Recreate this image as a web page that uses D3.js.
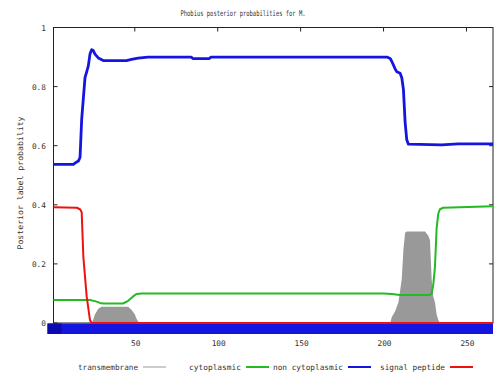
<!DOCTYPE html>
<html>
<head>
<meta charset="utf-8">
<script src="https://cdn.jsdelivr.net/npm/d3@7"></script>
<style>
  body { margin: 0; background: #fff; }
  text { font-family: "DejaVu Sans Mono", monospace; font-size: 7.8px; fill: #333; }
</style>
</head>
<body>
<script>
// residue range and tick labels
var residues = [1, 266];
var xTicks = [50, 100, 150, 200, 250];
var yTicks = [0, 0.2, 0.4, 0.6, 0.8, 1];

// posterior probabilities: [residue, probability]
var transmembrane = [[1,0],[24,0],[25,0.012],[26,0.03],[28,0.048],[30,0.055],[46,0.055],[48,0.045],
  [50,0.03],[51,0.015],[52,0.005],[53,0],[204,0],[205,0.02],[207,0.04],[209,0.07],[211,0.15],
  [212,0.25],[213,0.305],[214,0.31],[225,0.31],[227,0.295],[228,0.28],[229,0.15],[230,0.09],
  [231,0.07],[232,0.03],[233,0.01],[234,0],[266,0]];
var cytoplasmic = [[1,0.078],[23,0.078],[26,0.074],[29,0.068],[31,0.066],[43,0.066],[46,0.075],
  [49,0.09],[51,0.098],[54,0.1],[200,0.1],[205,0.098],[210,0.095],[228,0.095],[229,0.1],
  [230,0.13],[231,0.19],[232,0.32],[233,0.37],[234,0.385],[236,0.39],[266,0.395]];
var nonCytoplasmic = [[1,0.537],[13,0.537],[15,0.545],[16,0.548],[17,0.56],[18,0.69],[20,0.83],
  [21,0.85],[22,0.87],[23,0.91],[24,0.925],[25,0.922],[26,0.91],[28,0.897],[31,0.888],[45,0.888],
  [48,0.892],[52,0.896],[58,0.9],[84,0.9],[85,0.895],[95,0.895],[96,0.9],[202,0.9],[204,0.895],
  [205,0.885],[207,0.86],[208,0.85],[210,0.845],[211,0.83],[212,0.79],[213,0.68],[214,0.62],
  [215,0.605],[235,0.603],[245,0.606],[266,0.606]];
var signalPeptide = [[1,0.392],[15,0.39],[17,0.385],[18,0.375],[19,0.224],[21,0.09],[23,0.01],
  [24,0],[266,0]];

var legendNames = ["transmembrane", "cytoplasmic", "non cytoplasmic", "signal peptide"];
var legendColors = ["#999999", "#22bb22", "#1515e0", "#ee1111"];

var W = 495, H = 375;
var margin = {top: 27.5, right: 2, bottom: 52, left: 53.5};

var svg = d3.select("body").append("svg")
    .attr("width", W)
    .attr("height", H);

var x = d3.scaleLinear().domain(residues).range([margin.left, W - margin.right]);
var y = d3.scaleLinear().domain([0, 1]).range([H - margin.bottom, margin.top]);

// title
svg.append("text")
    .attr("x", 243).attr("y", 16)
    .attr("text-anchor", "middle")
    .attr("textLength", 125).attr("lengthAdjust", "spacingAndGlyphs")
    .text("Phobius posterior probabilities for M.");

// y label
svg.append("text")
    .attr("transform", "translate(23," + 183 + ") rotate(-90)")
    .attr("text-anchor", "middle")
    .attr("textLength", 133).attr("lengthAdjust", "spacingAndGlyphs")
    .text("Posterior label probability");

// frame
svg.append("rect")
    .attr("x", x(residues[0])).attr("y", y(1))
    .attr("width", x(residues[1]) - x(residues[0]))
    .attr("height", y(0) - y(1))
    .attr("fill", "none").attr("stroke", "#222").attr("stroke-width", 1);

// ticks (inward, gnuplot style)
var tickG = svg.append("g").attr("stroke", "#222");
yTicks.forEach(function(t) {
  tickG.append("line").attr("x1", x(residues[0])).attr("x2", x(residues[0]) + 4)
    .attr("y1", y(t)).attr("y2", y(t));
  tickG.append("line").attr("x1", x(residues[1])).attr("x2", x(residues[1]) - 4)
    .attr("y1", y(t)).attr("y2", y(t));
});
xTicks.forEach(function(t) {
  tickG.append("line").attr("x1", x(t)).attr("x2", x(t))
    .attr("y1", y(1)).attr("y2", y(1) + 4);
});

svg.selectAll(".ylab").data(yTicks).enter().append("text")
    .attr("class", "ylab")
    .attr("x", 46).attr("y", function(d) { return y(d) + 3; })
    .attr("text-anchor", "end")
    .text(function(d) { return d === 0 || d === 1 ? d : d.toFixed(1); });

svg.selectAll(".xlab").data(xTicks).enter().append("text")
    .attr("class", "xlab")
    .attr("x", function(d) { return x(d) + 1; }).attr("y", 346)
    .attr("text-anchor", "middle")
    .text(function(d) { return d; });

var line = d3.line()
    .x(function(d) { return x(d[0]); })
    .y(function(d) { return y(d[1]); });

var area = d3.area()
    .x(function(d) { return x(d[0]); })
    .y0(y(0))
    .y1(function(d) { return y(d[1]); });

// transmembrane as filled impulses
svg.append("path")
    .attr("d", area(transmembrane))
    .attr("fill", legendColors[0]);

// predicted topology band along the bottom
svg.append("rect")
    .attr("x", x(residues[0]) - 6).attr("y", y(0) + 0.5)
    .attr("width", x(residues[1]) - x(residues[0]) + 6)
    .attr("height", 10.5)
    .attr("fill", legendColors[2]);
svg.append("rect")
    .attr("x", x(residues[0]) - 6).attr("y", y(0) + 0.5)
    .attr("width", 14)
    .attr("height", 10.5)
    .attr("fill", "#0a0ab0");

[[cytoplasmic, 1, 2], [nonCytoplasmic, 2, 2.8], [signalPeptide, 3, 2]].forEach(function(s) {
  svg.append("path")
      .attr("d", line(s[0]))
      .attr("fill", "none")
      .attr("stroke", legendColors[s[1]])
      .attr("stroke-width", s[2])
      .attr("stroke-linejoin", "round");
});

// legend
var legendX = [78, 189, 273, 380];
var legendW = [60, 52, 70, 65];
legendNames.forEach(function(n, i) {
  svg.append("text")
      .attr("x", legendX[i]).attr("y", 370)
      .attr("textLength", legendW[i]).attr("lengthAdjust", "spacingAndGlyphs")
      .text(n);
  svg.append("line")
      .attr("x1", legendX[i] + legendW[i] + 5).attr("x2", legendX[i] + legendW[i] + 28)
      .attr("y1", 367).attr("y2", 367)
      .attr("stroke", legendColors[i])
      .attr("stroke-width", i === 0 ? 1 : 2);
});
</script>
</body>
</html>
